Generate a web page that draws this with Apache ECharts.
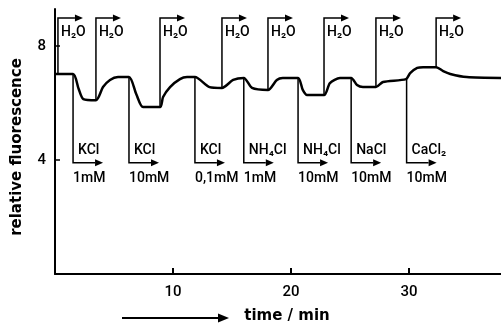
<!DOCTYPE html>
<html>
<head>
<meta charset="utf-8">
<script src="https://cdn.jsdelivr.net/npm/echarts@6/dist/echarts.min.js"></script>
<style>
html, body { margin: 0; padding: 0; background: #fff; }
#chart { width: 501px; height: 324px; }
</style>
</head>
<body>
<div id="chart"></div>
<script>
// fluorescence trace (time in min)
const traceTime = [0, 1.53, 2.0, 2.4, 3.47, 4.07, 4.66, 5.34, 6.27, 6.9, 7.46, 8.9, 9.16, 9.75, 10.59, 11.19, 11.86, 13.1, 14.15, 15.1, 16.0, 16.7, 18.05, 18.8, 19.3, 20.6, 21.0, 21.36, 22.8, 23.3, 24.15, 25.1, 25.6, 26.1, 27.2, 27.8, 29.75, 30.1, 30.7, 31.2, 32.3, 32.9, 33.5, 34.9, 37.8]
const traceValue = [7.02, 7.02, 6.5, 6.14, 6.1, 6.56, 6.81, 6.91, 6.91, 6.3, 5.86, 5.86, 6.21, 6.56, 6.84, 6.91, 6.91, 6.56, 6.53, 6.81, 6.88, 6.53, 6.46, 6.81, 6.88, 6.88, 6.46, 6.28, 6.28, 6.7, 6.88, 6.88, 6.63, 6.56, 6.56, 6.74, 6.84, 7.05, 7.23, 7.26, 7.26, 7.12, 7.02, 6.91, 6.88]

// additions
const waterTimes = [0.25, 3.47, 8.9, 14.15, 18.05, 22.8, 27.2, 32.3]
const saltTimes = [1.53, 6.27, 11.86, 16.0, 20.6, 25.1, 29.8]
const saltNames = ['KCl', 'KCl', 'KCl', 'NH₄Cl', 'NH₄Cl', 'NaCl', 'CaCl₂']
const saltConc = ['1mM', '10mM', '0,1mM', '1mM', '10mM', '10mM', '10mM']

const waterLevel = 8.98
const saltLevel = 3.9

const font = 'Roboto'
const nameFont = 'DejaVu Sans'

const valueAt = (t) => {
  for (let i = 1; i < traceTime.length; i++) {
    if (t <= traceTime[i]) {
      const f = (t - traceTime[i - 1]) / (traceTime[i] - traceTime[i - 1])
      return traceValue[i - 1] + f * (traceValue[i] - traceValue[i - 1])
    }
  }
  return traceValue[traceValue.length - 1]
}

const makeArrow = (labels) => (params, api) => {
  const t = api.value(0)
  const v0 = api.value(1)
  const level = api.value(2)
  const up = level > v0
  const p0 = api.coord([t, v0])
  const p1 = api.coord([t, level])
  const len = up ? 25 : 30
  const head = 8
  const xEnd = p1[0] + len
  const children = [
    {
      type: 'polyline',
      shape: { points: [p0, p1, [xEnd - head, p1[1]]] },
      style: { stroke: '#000', lineWidth: 1.5, fill: null, lineJoin: 'miter' }
    },
    {
      type: 'polygon',
      shape: { points: [[xEnd, p1[1]], [xEnd - head, p1[1] - 3.5], [xEnd - head, p1[1] + 3.5]] },
      style: { fill: '#000' }
    }
  ]
  labels(params.dataIndex).forEach((lab) => {
    children.push({
      type: 'text',
      x: p1[0] + lab.dx,
      y: p1[1] + lab.dy,
      style: {
        text: lab.text,
        fill: '#000',
        font: `500 14px "${font}"`,
        textAlign: 'left',
        textVerticalAlign: 'middle'
      }
    })
  })
  return { type: 'group', children }
}

const chart = echarts.init(document.getElementById('chart'))

chart.setOption({
  animation: false,
  grid: { left: 55, right: 0, top: 9, bottom: 50, containLabel: false, outerBoundsMode: 'none' },
  xAxis: {
    type: 'value',
    min: 0,
    max: 37.8,
    interval: 10,
    name: 'time / min',
    nameLocation: 'middle',
    nameGap: 35,
    nameTextStyle: { fontFamily: nameFont, fontSize: 15, fontWeight: 'bold', color: '#000', padding: [0, 0, 0, 18] },
    axisLine: { lineStyle: { color: '#000', width: 2 } },
    axisTick: { inside: true, length: 6, lineStyle: { color: '#000', width: 2 } },
    axisLabel: { showMinLabel: false, showMaxLabel: false, margin: 11, color: '#000', fontFamily: font, fontWeight: 500, fontSize: 15 },
    splitLine: { show: false }
  },
  yAxis: {
    type: 'value',
    min: 0,
    max: 9.3,
    interval: 4,
    name: 'relative fluorescence',
    nameLocation: 'middle',
    nameGap: 30,
    nameTextStyle: { fontFamily: nameFont, fontSize: 15, fontWeight: 'bold', color: '#000', padding: [0, 11, 0, 0] },
    axisLine: { show: true, lineStyle: { color: '#000', width: 2 } },
    axisTick: { show: true, inside: true, length: 5, lineStyle: { color: '#000', width: 1.5 } },
    axisLabel: { showMinLabel: false, showMaxLabel: false, margin: 9, color: '#000', fontFamily: font, fontWeight: 500, fontSize: 15 },
    splitLine: { show: false }
  },
  graphic: [
    {
      type: 'line',
      shape: { x1: 122, y1: 318, x2: 219, y2: 318 },
      style: { stroke: '#000', lineWidth: 2 }
    },
    {
      type: 'polygon',
      shape: { points: [[229, 318], [218, 313.5], [218, 322.5]] },
      style: { fill: '#000' }
    }
  ],
  series: [
    {
      type: 'line',
      data: traceTime.map((t, i) => [t, traceValue[i]]),
      showSymbol: false,
      smooth: 0.25,
      lineStyle: { color: '#000', width: 2.5 },
      z: 3
    },
    {
      type: 'custom',
      clip: false,
      data: waterTimes.map((t) => [t, valueAt(t), waterLevel]),
      encode: { x: 0, y: 1 },
      renderItem: makeArrow(() => [{ text: 'H₂O', dx: 3, dy: 14 }]),
      z: 2
    },
    {
      type: 'custom',
      clip: false,
      data: saltTimes.map((t) => [t, valueAt(t), saltLevel]),
      encode: { x: 0, y: 1 },
      renderItem: makeArrow((i) => [
        { text: saltNames[i], dx: 5, dy: -12 },
        { text: saltConc[i], dx: 0, dy: 16 }
      ]),
      z: 2
    }
  ]
})
</script>
</body>
</html>
